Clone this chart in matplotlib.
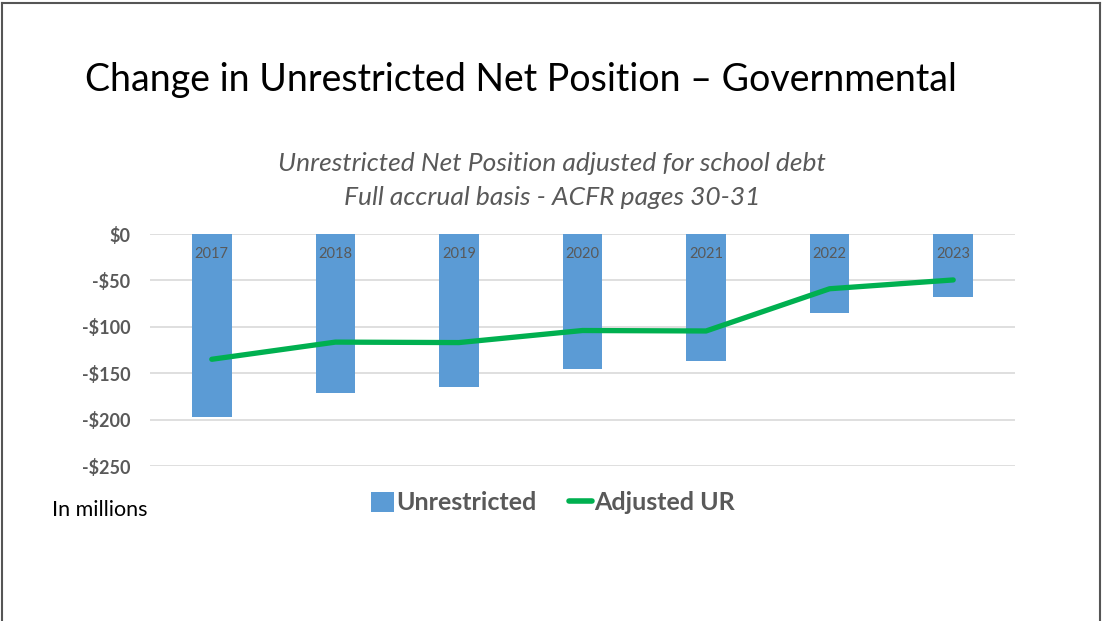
import matplotlib
matplotlib.use("Agg")
import matplotlib.pyplot as plt
from matplotlib.lines import Line2D
from matplotlib.patches import Patch
import numpy as np

years = ["2017", "2018", "2019", "2020", "2021", "2022", "2023"]
unrestricted = [-197, -171, -164.5, -146, -137, -85, -68]
adjusted_ur = [-135, -116.5, -117, -104, -104.5, -59, -49.5]
yticks = [0, -50, -100, -150, -200, -250]
ytick_labels = ["$0", "-$50", "-$100", "-$150", "-$200", "-$250"]

W, H = 1102, 621
fig = plt.figure(figsize=(W / 100, H / 100), dpi=100)
fig.patch.set_facecolor("white")

# slide frame
frame_kw = dict(color="#555555", lw=1.5, transform=fig.transFigure)
fig.add_artist(Line2D([2 / W, 2 / W], [0, 1 - 3 / H], **frame_kw))
fig.add_artist(Line2D([2 / W, 1100 / W], [1 - 3 / H, 1 - 3 / H], **frame_kw))
fig.add_artist(Line2D([1100 / W, 1100 / W], [0, 1 - 3 / H], **frame_kw))

left, right = 150 / W, 1015 / W
top, bottom = 1 - 234 / H, 1 - 466 / H
ax = fig.add_axes([left, bottom, right - left, top - bottom])

x = np.arange(len(years))
ax.bar(x, unrestricted, width=0.32, color="#5B9BD5", zorder=2)
ax.plot(x, adjusted_ur, color="#00B050", lw=3.8, solid_capstyle="round", zorder=3)

for xi, yr in zip(x, years):
    ax.text(xi, -22, yr, ha="center", va="center", fontsize=10.5,
            color="#595959", family="Lato", zorder=4)

ax.set_xlim(-0.5, len(years) - 0.5)
ax.set_ylim(-250, 0)
ax.set_yticks(yticks)
ax.set_yticklabels(ytick_labels, fontsize=13, color="#595959",
                   family="Lato", fontweight="bold")
ax.set_xticks([])
ax.tick_params(axis="y", length=0, pad=14)
ax.grid(axis="y", color="#D9D9D9", lw=1.2, zorder=0)
for s in ax.spines.values():
    s.set_visible(False)

fig.text(85 / W, 1 - 80 / H, "Change in Unrestricted Net Position \u2013 Governmental",
         fontsize=27, family="Lato", fontweight="normal", color="black",
         ha="left", va="center")
fig.text(552 / W, 1 - 163 / H, "Unrestricted Net Position adjusted for school debt",
         fontsize=19, family="Lato", style="italic", color="#595959",
         ha="center", va="center")
fig.text(552 / W, 1 - 197 / H, "Full accrual basis - ACFR pages 30-31",
         fontsize=19, family="Lato", style="italic", color="#595959",
         ha="center", va="center")
fig.text(52 / W, 1 - 510 / H, "In millions", fontsize=15.5, family="Lato",
         color="black", ha="left", va="center")

handles = [Patch(facecolor="#5B9BD5", edgecolor="none"),
           Line2D([0], [0], color="#00B050", lw=4, solid_capstyle="round")]
leg = fig.legend(handles, ["Unrestricted", "Adjusted UR"], loc="center",
                 bbox_to_anchor=(553 / W, 1 - 503 / H), ncol=2, frameon=False,
                 prop=dict(family="Lato", weight="bold", size=18),
                 handlelength=0.9, handleheight=0.9, handletextpad=0.1,
                 columnspacing=1.3)
for t in leg.get_texts():
    t.set_color("#595959")

fig.savefig("out.png", dpi=100, facecolor="white")
